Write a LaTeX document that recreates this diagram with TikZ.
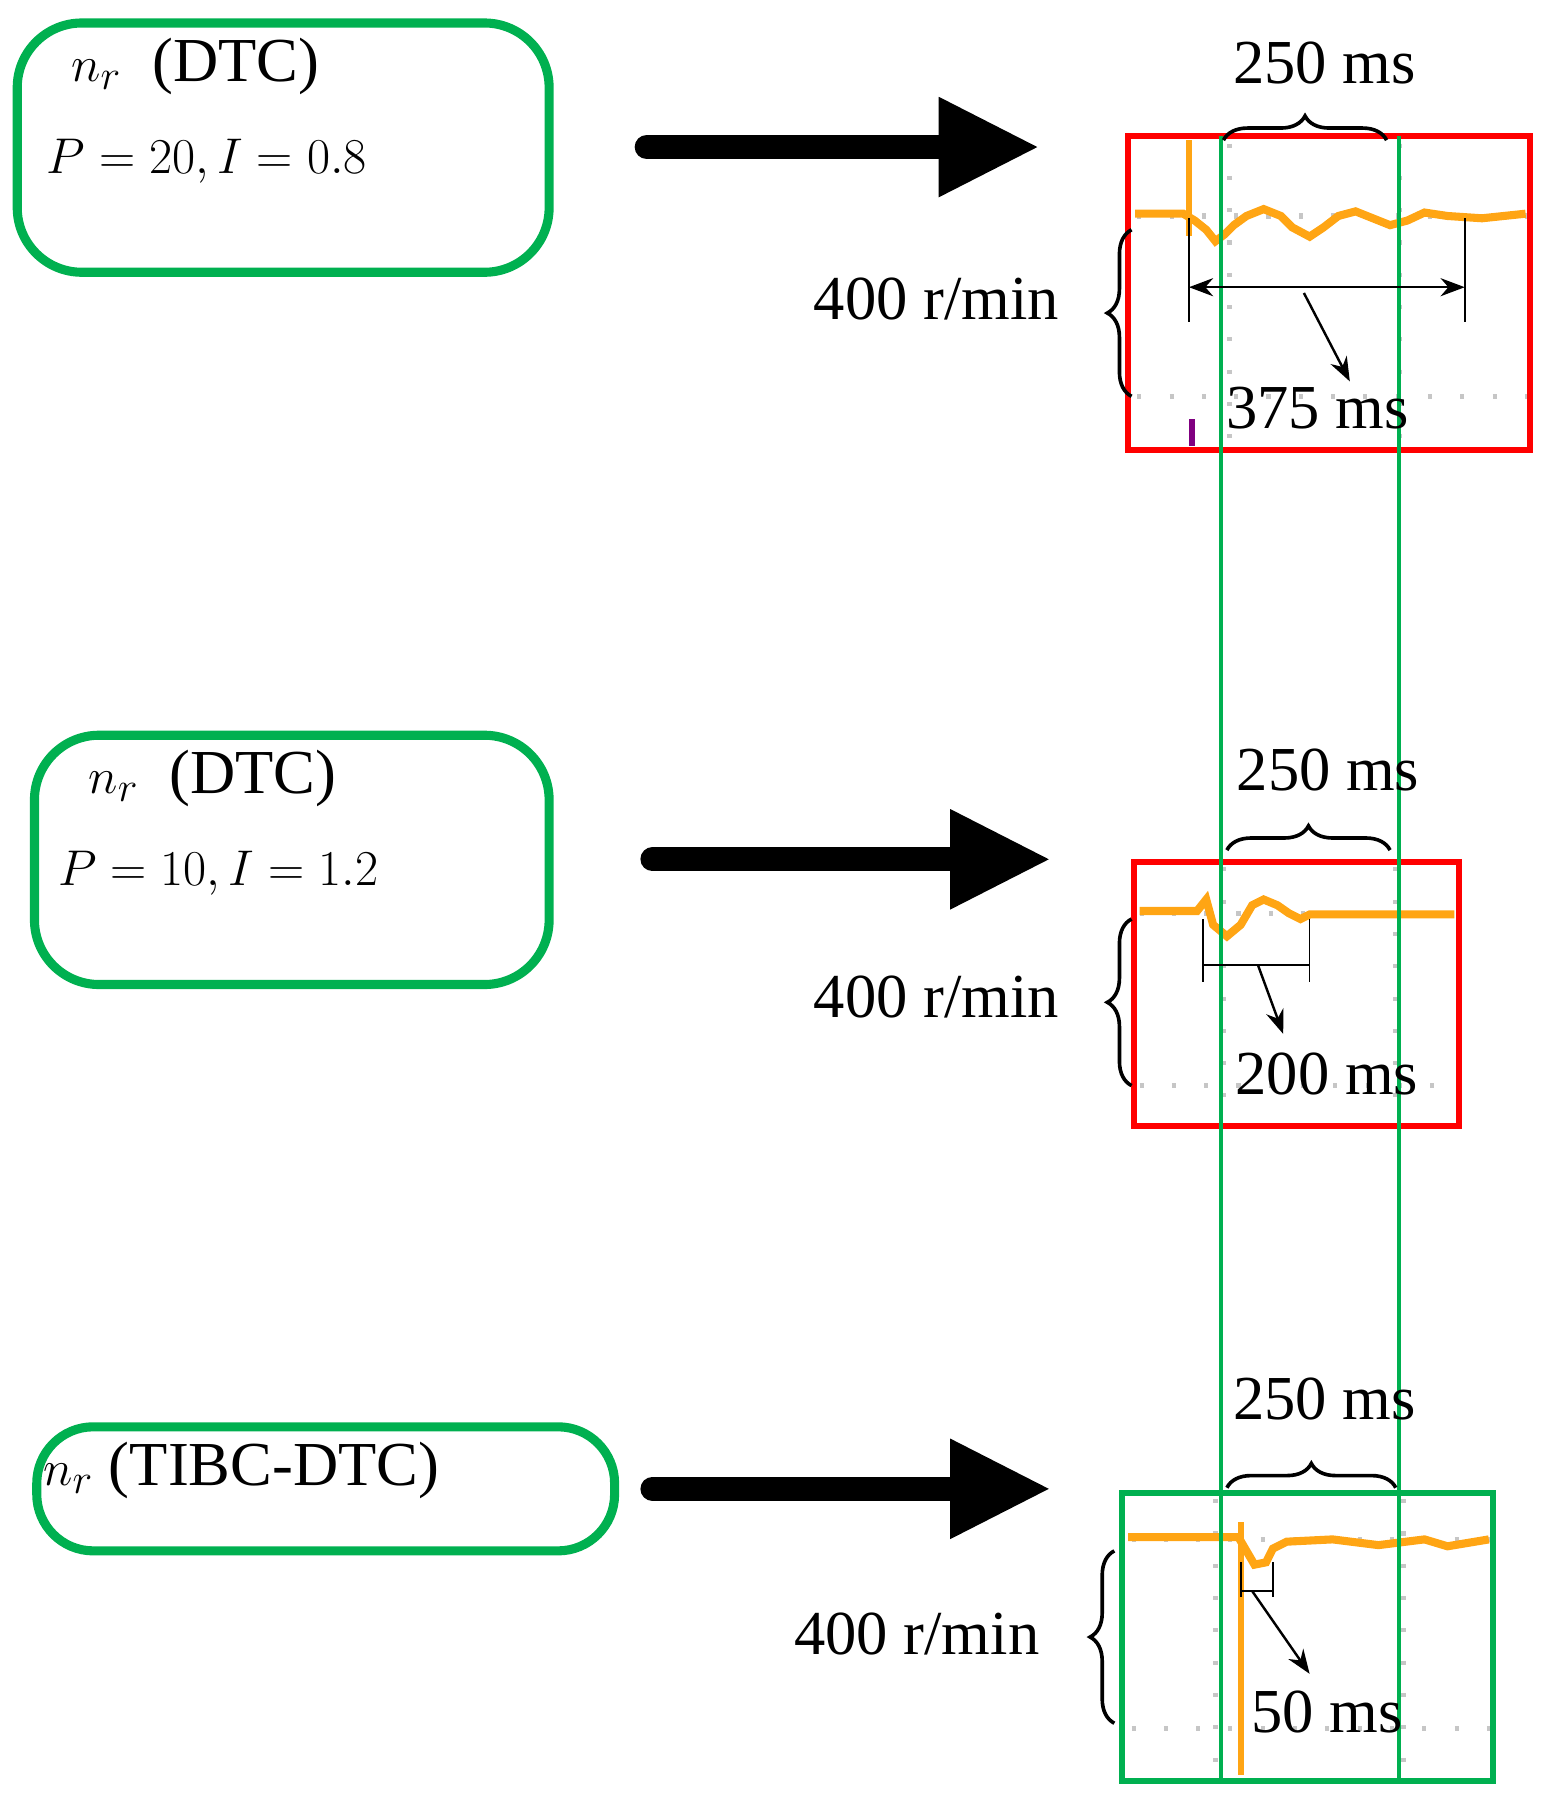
\documentclass[tikz,border=0pt]{standalone}
\usepackage{fontspec}
\setmainfont{Liberation Serif}
\usepackage{amsmath}
\usetikzlibrary{arrows.meta,decorations.pathreplacing,positioning}
\definecolor{boxgreen}{RGB}{0,176,80}
\definecolor{trace}{RGB}{255,165,20}
\begin{document}
\begin{tikzpicture}[x=0.02cm,y=-0.02cm,
    txt/.style={font=\fontsize{31}{36}\selectfont,inner sep=0pt},
    mtxt/.style={font=\fontsize{35}{40}\selectfont,inner sep=0pt},
    panel/.style={line width=4.5pt,rounded corners=32pt},
    fat/.style={line width=12pt,line cap=round,-{Triangle[length=50pt,width=46pt]}},
    brc/.style={decorate,decoration={brace,amplitude=12pt},line width=1.8pt},
    tr/.style={trace,line width=4pt},
    grid/.style={gray!45,line width=2.5pt,dash pattern=on 2pt off 14pt}]
    \useasboundingbox (0,0) rectangle (1350,1566);

    % parameter panels
    \draw[panel,boxgreen] (15,20) rectangle (478,237);
    \node[txt] (n1) at (170,58) {$n_r$\ \ (DTC)};
    \node[mtxt] (p1) at (180,140) {$P=20, I=0.8$};
    \draw[panel,boxgreen] (30,640) rectangle (478,857);
    \node[txt] (n2) at (185,678) {$n_r$\ \ (DTC)};
    \node[mtxt] (p2) at (190,760) {$P=10, I=1.2$};
    \draw[panel,boxgreen,rounded corners=28pt] (32,1242) rectangle (535,1350);
    \node[txt] (n3) at (210,1280) {$n_r$ (TIBC-DTC)};

    % big arrows
    \coordinate (a1) at (563,128); \coordinate (b1) at (905,128);
    \coordinate (a2) at (568,748); \coordinate (b2) at (915,748);
    \coordinate (a3) at (568,1296); \coordinate (b3) at (915,1296);
    \draw[fat] (a1) -- (b1);
    \draw[fat] (a2) -- (b2);
    \draw[fat] (a3) -- (b3);

    % scope grids
    \draw[grid] (990,188) -- (1330,188) (990,345) -- (1330,345) (1070,125) -- (1070,385) (1218,125) -- (1218,385);
    \draw[grid] (992,795) -- (1268,795) (992,945) -- (1268,945) (1065,755) -- (1065,975) (1215,755) -- (1215,975);
    \draw[grid] (985,1340) -- (1298,1340) (985,1505) -- (1298,1505) (1058,1305) -- (1058,1545) (1222,1305) -- (1222,1545);

    % speed traces
    \draw[tr] (988,186) -- (1030,186) -- (1040,192) -- (1050,200) -- (1058,210) -- (1066,204) -- (1074,196) -- (1085,188) -- (1100,182) -- (1115,188) -- (1125,198) -- (1140,206) -- (1152,198) -- (1165,188) -- (1180,184) -- (1195,190) -- (1210,196) -- (1225,192) -- (1240,185) -- (1260,188) -- (1290,190) -- (1328,186);
    \draw[trace,line width=2.5pt] (1035,122) -- (1035,205);
    \draw[violet,line width=3pt] (1038,365) -- (1038,388);
    \draw[tr] (992,793) -- (1042,793) -- (1050,783) -- (1056,805) -- (1068,815) -- (1080,805) -- (1090,788) -- (1100,783) -- (1112,788) -- (1122,795) -- (1132,800) -- (1140,796) -- (1266,796);
    \draw[tr] (982,1338) -- (1078,1338) -- (1085,1350) -- (1092,1362) -- (1102,1360) -- (1108,1348) -- (1120,1342) -- (1160,1340) -- (1200,1345) -- (1240,1340) -- (1260,1346) -- (1296,1340);
    \draw[trace,line width=3pt] (1080,1325) -- (1080,1545);

    % scope frames
    \draw[red,line width=3pt] (982,118) rectangle (1332,392);
    \draw[red,line width=3pt] (987,750) rectangle (1270,980);
    \draw[boxgreen,line width=3pt] (977,1300) rectangle (1300,1550);
    \draw[boxgreen,line width=2pt] (1063,118) -- (1063,1550) (1218,118) -- (1218,1550);

    % time braces
    \begin{scope}[every node/.style={txt}]
    \draw[brc] (1065,122) -- (1207,122);
    \node (t1) at (1153,55) {250 ms};
    \draw[brc] (1068,740) -- (1210,740);
    \node (t2) at (1156,670) {250 ms};
    \draw[brc] (1068,1295) -- (1215,1295);
    \node (t3) at (1153,1218) {250 ms};
    \draw[brc] (985,345) -- (985,200);
    \node (s1) at (815,260) {400 r/min};
    \draw[brc] (985,945) -- (985,800);
    \node (s2) at (815,868) {400 r/min};
    \draw[brc] (970,1500) -- (970,1350);
    \node (s3) at (798,1422) {400 r/min};
    \node (d1) at (1147,355) {375 ms};
    \node (d2) at (1155,935) {200 ms};
    \node (d3) at (1155,1490) {50 ms};
    \end{scope}

    % settling intervals
    \begin{scope}[>={Stealth[black,length=12pt,width=9pt]},line width=0.8pt]
    \draw (1035,190) -- (1035,280) (1275,190) -- (1275,280);
    \draw[<->] (1035,250) -- (1275,250);
    \coordinate (m1) at (1135,255);
    \draw[->,line width=1.2pt] (m1) -- (1175,332);
    \draw (1047,800) -- (1047,855) (1140,800) -- (1140,855) (1047,840) -- (1140,840);
    \coordinate (m2) at (1095,840);
    \draw[->,line width=1.2pt] (m2) -- (1117,900);
    \draw (1080,1360) -- (1080,1390) (1108,1360) -- (1108,1390) (1080,1385) -- (1108,1385);
    \coordinate (m3) at (1090,1385);
    \draw[->,line width=1.2pt] (m3) -- (1140,1457);
    \end{scope}
\end{tikzpicture}
\end{document}
